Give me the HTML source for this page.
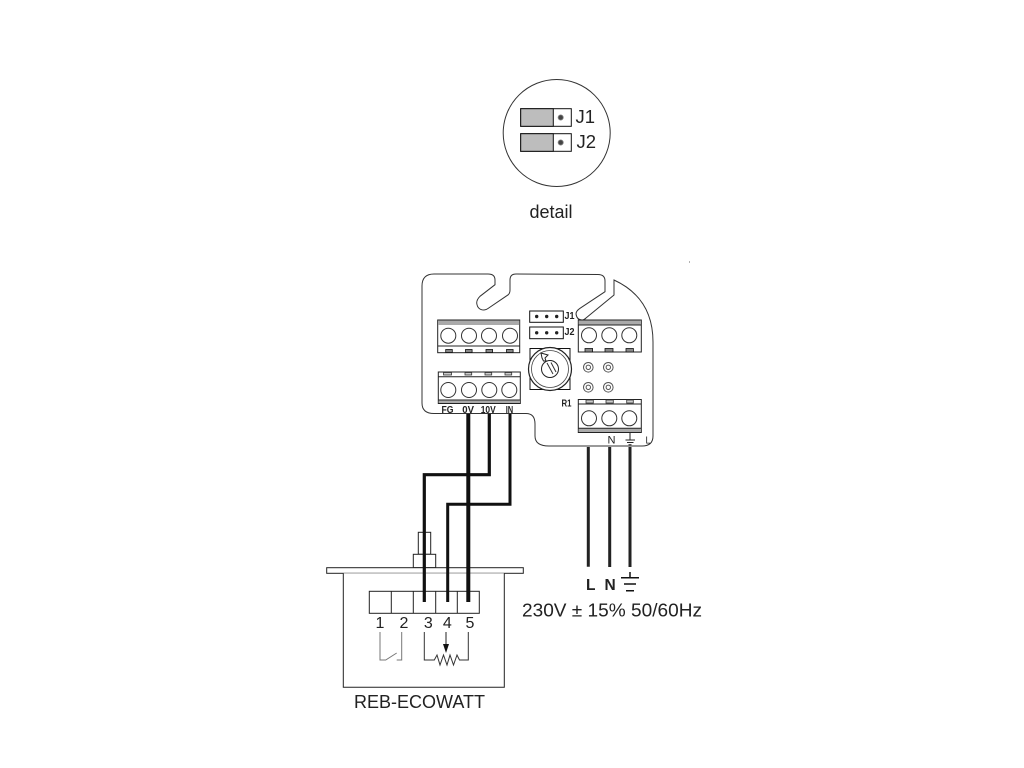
<!DOCTYPE html>
<html><head><meta charset="utf-8"><style>
html,body{margin:0;padding:0;background:#fff}
svg{display:block}
text{font-family:"Liberation Sans",sans-serif;fill:#222}
</style></head><body>
<svg xmlns="http://www.w3.org/2000/svg" width="1024" height="768" viewBox="0 0 1024 768">
<rect width="1024" height="768" fill="#fff"/>
<!-- detail -->
<circle cx="556.7" cy="133" r="53.5" fill="none" stroke="#333" stroke-width="1"/>
<g stroke="#111" stroke-width="1">
<rect x="520.7" y="108.7" width="50.6" height="17.6" fill="#fff"/>
<rect x="520.7" y="108.7" width="32.6" height="17.6" fill="#bdbdbd"/>
<rect x="520.7" y="133.7" width="50.6" height="17.6" fill="#fff"/>
<rect x="520.7" y="133.7" width="32.6" height="17.6" fill="#bdbdbd"/>
</g>
<circle cx="560.7" cy="117.5" r="2.6" fill="#444" stroke="#888" stroke-width="0.8"/>
<circle cx="560.7" cy="142.5" r="2.6" fill="#444" stroke="#888" stroke-width="0.8"/>
<text x="575.5" y="123" font-size="18.5">J1</text>
<text x="576.5" y="148" font-size="18.5">J2</text>
<text x="529.5" y="218" font-size="18">detail</text>
<!-- board -->
<path d="M422 286 Q422 274 434 274 L488 274 Q495 274 495 280 L495 284.700 L480 296.300 Q476.700 299.500 476.700 303 Q477.500 310 484 310 Q486 310 488 308.500 L508.300 294.700 Q510 293 510 290 L510 280 Q510 274 516 274 L598 274.500 Q605 274.500 605 281 L605 291.700 L580 308.300 Q576 311 576 314 Q577 320 582 320 Q584 320 586 318 L614 295 L614 280 Q653 298 653 342 L653 436 Q653 446 642 446 L549 446 Q535 446 535 436 L535 424 Q535 413.500 526 413.500 L434 413.500 Q422 413.500 422 403 Z" fill="#fff" stroke="#333" stroke-width="1"/>
<!-- terminal blocks -->
<g fill="#fff" stroke="#222" stroke-width="1">
<rect x="437.700" y="320" width="82" height="32.700"/>
<rect x="438.300" y="372" width="82" height="31.500"/>
<rect x="578.300" y="320" width="63" height="32"/>
<rect x="578.300" y="399.500" width="63" height="33"/>
</g>
<g fill="#aaa"><rect x="438.200" y="320.500" width="81" height="4.500"/><rect x="578.800" y="320.500" width="62" height="4.500"/><rect x="438.800" y="400" width="81" height="3"/><rect x="578.800" y="428.500" width="62" height="3.500"/></g>
<path d="M438 346H519.500M438.300 376.700H520.300M438.300 400H520.300M578.300 325H641.300M578.300 404H641.300M578.300 428.300H641.300" stroke="#222" stroke-width="1" fill="none"/>
<g fill="#fff" stroke="#333" stroke-width="1">
<circle cx="448.300" cy="335.700" r="7.500"/><circle cx="469" cy="335.700" r="7.500"/><circle cx="489" cy="335.700" r="7.500"/><circle cx="510" cy="335.700" r="7.500"/>
<circle cx="448.300" cy="390" r="7.500"/><circle cx="469" cy="390" r="7.500"/><circle cx="489.300" cy="390" r="7.500"/><circle cx="509.300" cy="390" r="7.500"/>
<circle cx="589" cy="335.300" r="7.500"/><circle cx="609.300" cy="335.300" r="7.500"/><circle cx="629.300" cy="335.300" r="7.500"/>
<circle cx="589" cy="418.300" r="7.500"/><circle cx="609.300" cy="418.300" r="7.500"/><circle cx="629.300" cy="418.300" r="7.500"/>
</g>
<g fill="#888" stroke="#111" stroke-width="0.800">
<rect x="445.700" y="349.500" width="6.600" height="3"/><rect x="465.500" y="349.500" width="6.600" height="3"/><rect x="486" y="349.500" width="6.600" height="3"/><rect x="506.500" y="349.500" width="6.600" height="3"/>
<rect x="585" y="348.500" width="7.600" height="3.500"/><rect x="605" y="348.500" width="8" height="3.500"/><rect x="626" y="348.500" width="7.400" height="3.500"/>
</g>
<g fill="#ccc" stroke="#333" stroke-width="0.800">
<rect x="443.500" y="372.500" width="8" height="2.500"/><rect x="465" y="372.500" width="6.700" height="2.500"/><rect x="485" y="372.500" width="6.700" height="2.500"/><rect x="505" y="372.500" width="6.700" height="2.500"/>
<rect x="586" y="400" width="7.300" height="3"/><rect x="606" y="400" width="7.300" height="3"/><rect x="626.700" y="400" width="6.600" height="3"/>
</g>
<g font-size="10.500" font-weight="bold" fill="#111">
<text x="441.500" y="413" textLength="12" lengthAdjust="spacingAndGlyphs">FG</text>
<text x="462.300" y="413" textLength="11.700" lengthAdjust="spacingAndGlyphs">0V</text>
<text x="480.700" y="413" textLength="15" lengthAdjust="spacingAndGlyphs">10V</text>
<text x="505.700" y="413" textLength="7.500" lengthAdjust="spacingAndGlyphs">IN</text>
<text x="561.500" y="406.500" textLength="10" lengthAdjust="spacingAndGlyphs">R1</text>
<text x="564.500" y="319" textLength="10" lengthAdjust="spacingAndGlyphs">J1</text>
<text x="564.500" y="335" textLength="10" lengthAdjust="spacingAndGlyphs">J2</text>
</g>
<text x="607.500" y="443.300" font-size="11" textLength="8" lengthAdjust="spacingAndGlyphs" fill="#111">N</text>
<text x="645.500" y="443.300" font-size="10" textLength="5" lengthAdjust="spacingAndGlyphs">L</text>
<path d="M630 433V440M625.500 440H635M627 442.500H633.500M628.500 444.700H631.500" stroke="#222" stroke-width="1" fill="none"/>
<!-- jumpers -->
<g fill="#fff" stroke="#111" stroke-width="1"><rect x="529.700" y="311" width="33.600" height="11.300"/><rect x="529.700" y="327" width="33.600" height="11.700"/></g>
<g fill="#222"><circle cx="536.700" cy="316.500" r="1.700"/><circle cx="546.700" cy="316.500" r="1.700"/><circle cx="556.700" cy="316.500" r="1.700"/><circle cx="536.700" cy="332.800" r="1.700"/><circle cx="546.700" cy="332.800" r="1.700"/><circle cx="556.700" cy="332.800" r="1.700"/></g>
<!-- rotary -->
<rect x="530" y="348.500" width="40" height="41" fill="#fff" stroke="#111" stroke-width="1"/>
<circle cx="550" cy="369" r="21.500" fill="#fff" stroke="#222" stroke-width="1.200"/>
<circle cx="550" cy="369" r="18.500" fill="none" stroke="#444" stroke-width="0.800"/>
<circle cx="550" cy="369" r="8.500" fill="#fff" stroke="#222" stroke-width="1"/>
<path d="M547 363L553 374M551 362.500L556 372" stroke="#333" stroke-width="1" fill="none"/>
<path d="M541 353L548 355L545 358L546 361L543.500 361L542 358Z" fill="#fff" stroke="#222" stroke-width="1"/>
<!-- small circles -->
<g fill="none" stroke="#555" stroke-width="1">
<circle cx="588.300" cy="367.300" r="4.800"/><circle cx="588.300" cy="367.300" r="2.200"/><circle cx="608.300" cy="367.300" r="4.800"/><circle cx="608.300" cy="367.300" r="2.200"/>
<circle cx="588.300" cy="387.300" r="4.800"/><circle cx="588.300" cy="387.300" r="2.200"/><circle cx="608.300" cy="387.300" r="4.800"/><circle cx="608.300" cy="387.300" r="2.200"/>
</g>
<rect x="689" y="261.500" width="1" height="1" fill="#666"/>
<!-- device -->
<g fill="#fff" stroke="#222" stroke-width="1">
<rect x="418.300" y="532.300" width="12.400" height="22"/>
<rect x="413.300" y="554.300" width="22.400" height="13.400"/>
<rect x="326.700" y="567.700" width="196.600" height="5.600"/>
<path d="M343.300 573.300V687.300H504.300V573.300"/>
<rect x="369.300" y="591.300" width="110" height="22"/>
<path d="M391.300 591.300V613.300M413.300 591.300V613.300M435.700 591.300V613.300M457.300 591.300V613.300" fill="none"/>
</g>
<g font-size="16" text-anchor="middle"><text x="380" y="628">1</text><text x="404" y="628">2</text><text x="428.300" y="628">3</text><text x="447.300" y="628">4</text><text x="470" y="628">5</text></g>
<path d="M380 632V660H385.700L396.700 653M396.700 660H401.700V632" fill="none" stroke="#777" stroke-width="1"/>
<path d="M424.300 632V660H434.300L437 655L440 665L443.500 655L447 665L450 655L453.500 665L457 655L459.500 660H468.300V632" fill="none" stroke="#333" stroke-width="1"/>
<path d="M446 632V645" stroke="#222" stroke-width="1"/>
<path d="M443 644H449L446 653Z" fill="#111"/>
<text x="354" y="708" font-size="18" textLength="131" lengthAdjust="spacingAndGlyphs">REB-ECOWATT</text>
<!-- wires -->
<g fill="none" stroke="#111" stroke-linejoin="miter">
<path d="M468.300 414V602" stroke-width="4"/>
<path d="M489.300 414V474.700H424.300V602" stroke-width="3.200"/>
<path d="M510 414V504.300H447.700V602" stroke-width="3"/>
</g>
<g stroke="#222" stroke-width="3"><path d="M588.300 447V566.700M609.700 447V567M630 447V567"/></g>
<path d="M630 572V577.700M621 577.700H639M624 584H636M626 590.700H634" stroke="#111" stroke-width="1.500" fill="none"/>
<text x="586" y="590" font-size="15.500" font-weight="bold" fill="#111">L</text>
<text x="604.500" y="590" font-size="15.500" font-weight="bold" fill="#111">N</text>
<text x="522" y="616.700" font-size="18" textLength="180" lengthAdjust="spacingAndGlyphs">230V ± 15% 50/60Hz</text>
</svg>
</body></html>
